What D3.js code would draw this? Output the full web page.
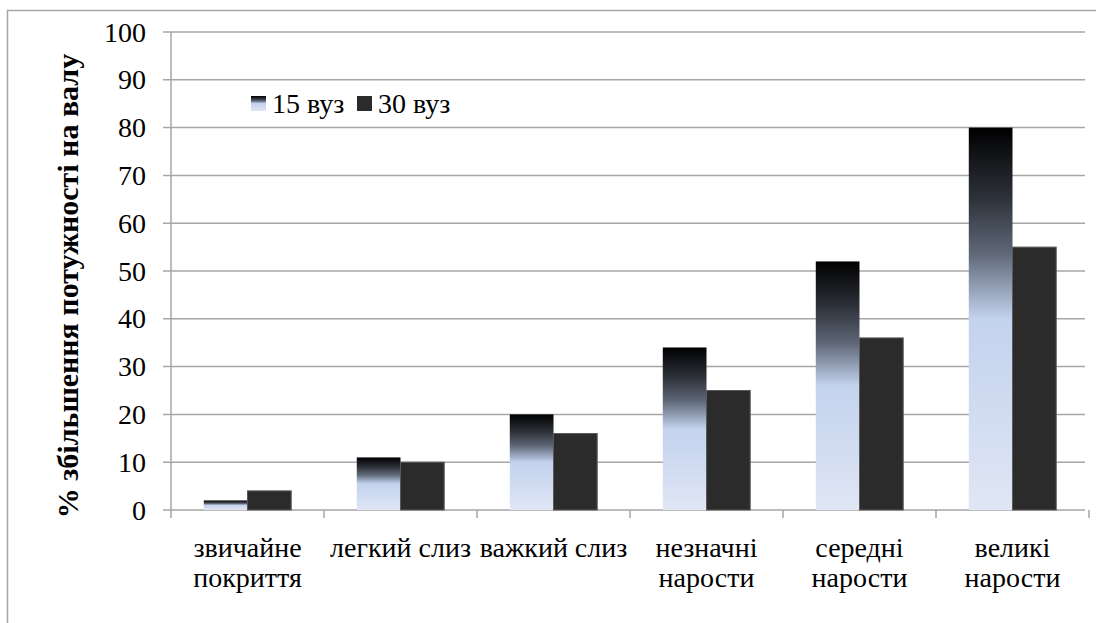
<!DOCTYPE html>
<html><head><meta charset="utf-8">
<script src="https://cdn.jsdelivr.net/npm/d3@7/dist/d3.min.js"></script>
<style>body{margin:0;background:#fff}svg{display:block}</style>
</head><body><svg id="c" width="1096" height="623"></svg>
<script>
const categories = [["звичайне","покриття"],["легкий слиз"],["важкий слиз"],["незначні","нарости"],["середні","нарости"],["великі","нарости"]];
const seriesNames = ["15 вуз","30 вуз"];
const values15 = [2, 11, 20, 34, 52, 80];
const values30 = [4, 10, 16, 25, 36, 55];
const yTicks = [0,10,20,30,40,50,60,70,80,90,100];
const yTitle = "% збільшення потужності на валу";

const FONT = "'Liberation Serif', 'Times New Roman', Tinos, serif";
const svg = d3.select("#c");
const L = 171, R = 1089, T = 32, B = 510;
const defs = svg.append("defs");
const g = defs.append("linearGradient").attr("id","grad").attr("x1",0).attr("y1",0).attr("x2",0).attr("y2",1);
[[0,"#000000"],[0.18,"#2c3038"],[0.33,"#5f6878"],[0.5,"#c3d2ee"],[1,"#e0e6f4"]].forEach(s=>g.append("stop").attr("offset",s[0]).attr("stop-color",s[1]));

svg.append("rect").attr("x",7.5).attr("y",10.5).attr("width",1100).attr("height",700).attr("fill","none").attr("stroke","#a6a6a6").attr("stroke-width",1.5);

const x = d3.scaleBand().domain(d3.range(categories.length)).range([L,R]).paddingInner(0).paddingOuter(0);
const y = d3.scaleLinear().domain([0,100]).range([B,T]);
const bw = x.bandwidth()/3.5;

svg.append("g").selectAll("line").data(yTicks).join("line")
  .attr("x1",L-8).attr("x2",1085).attr("y1",d=>y(d)).attr("y2",d=>y(d))
  .attr("stroke","#a6a6a6").attr("stroke-width",1.5);
svg.append("line").attr("x1",L).attr("x2",L).attr("y1",T).attr("y2",B).attr("stroke","#a6a6a6").attr("stroke-width",1.5);
svg.append("g").selectAll("text").data(yTicks).join("text")
  .style("font-family",FONT)
  .attr("x",146).attr("y",d=>y(d)+9.5).attr("text-anchor","end").attr("font-size",28).attr("fill","#000").text(d=>d);
svg.append("g").selectAll("line").data(d3.range(categories.length+1)).join("line")
  .attr("x1",d=>d<categories.length?x(d):R).attr("x2",d=>d<categories.length?x(d):R)
  .attr("y1",B).attr("y2",B+8).attr("stroke","#a6a6a6").attr("stroke-width",1.5);

svg.append("g").selectAll("rect").data(values15).join("rect")
  .attr("x",(d,i)=>x(i)+bw*0.75).attr("y",d=>y(d)).attr("width",bw).attr("height",d=>B-y(d))
  .attr("fill","url(#grad)");
svg.append("g").selectAll("rect").data(values30).join("rect")
  .attr("x",(d,i)=>x(i)+bw*1.75).attr("y",d=>y(d)).attr("width",bw).attr("height",d=>B-y(d))
  .attr("fill","#2b2b2b").attr("stroke","#5a5a5a").attr("stroke-width",1);

const xl = svg.append("g").selectAll("text").data(categories).join("text")
  .style("font-family",FONT)
  .attr("x",(d,i)=>x(i)+x.bandwidth()/2).attr("y",557).attr("text-anchor","middle").attr("font-size",28).attr("fill","#000");
xl.each(function(d){ const t=d3.select(this); d.forEach((s,j)=>t.append("tspan").attr("x",t.attr("x")).attr("dy",j?30:0).text(s)); });

svg.append("text").style("font-family",FONT).attr("transform","translate(78,286) rotate(-90)").attr("text-anchor","middle")
  .attr("font-size",30).attr("font-weight","bold").attr("fill","#000").text(yTitle);

const leg = svg.append("g");
const lx = [251, 357];
seriesNames.forEach((n,i)=>{
  leg.append("rect").attr("x",lx[i]).attr("y",96).attr("width",15).attr("height",15).attr("fill",i?"#2b2b2b":"url(#grad)");
  leg.append("text").style("font-family",FONT).attr("x",lx[i]+21).attr("y",113).attr("font-size",28).attr("fill","#000").text(n);
});
</script></body></html>
